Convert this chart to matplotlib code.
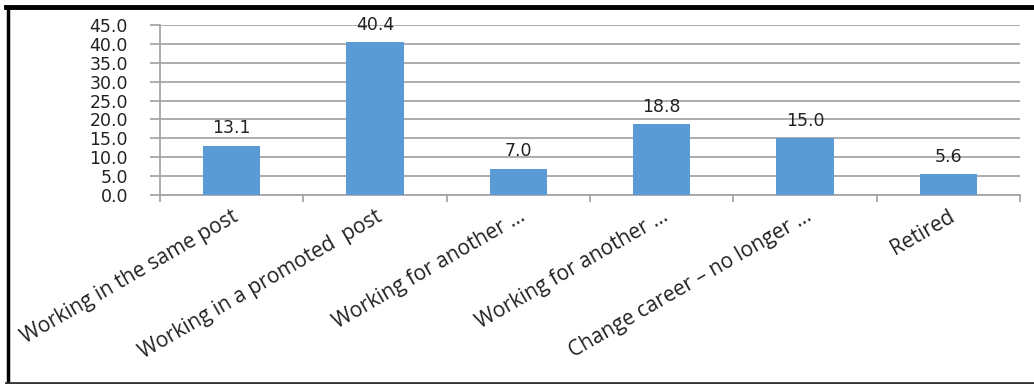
import numpy as np
import matplotlib.pyplot as plt
from matplotlib.lines import Line2D

# data
categories = [
    "Working in the same post",
    "Working in a promoted  post",
    "Working for another \u2026",
    "Working for another \u2026",
    "Change career \u2013 no longer \u2026",
    "Retired",
]
values = [13.1, 40.4, 7.0, 18.8, 15.0, 5.6]

bar_color = "#5B9BD5"
grid_color = "#A6A6A6"

fig = plt.figure(figsize=(10.34, 3.84), dpi=100)
ax = fig.add_axes([160 / 1034, 1 - 195 / 384, 860 / 1034, 170 / 384])

x = np.arange(len(categories))
ax.bar(x, values, width=0.4, color=bar_color, zorder=3)

for xi, v in zip(x, values):
    ax.text(xi, v + 2.2, f"{v:.1f}", ha="center", va="bottom",
            fontsize=12.5, family="DejaVu Sans", color="#222222", zorder=4)

ax.set_ylim(0, 45)
ax.set_xlim(-0.5, len(categories) - 0.5)
ax.set_yticks(np.arange(0, 46, 5))
ax.set_yticklabels([f"{t:.1f}" for t in np.arange(0, 46, 5)],
                   fontsize=12.5, family="DejaVu Sans", color="#222222")
ax.yaxis.grid(True, color=grid_color, linewidth=1.3, zorder=0)

# category boundaries as major ticks, labels on minor ticks
ax.set_xticks(np.arange(-0.5, len(categories), 1.0))
ax.set_xticklabels([])
ax.set_xticks(x, minor=True)
ax.set_xticklabels(categories, minor=True, rotation=30, ha="right",
                   rotation_mode="anchor", fontsize=15, family="Open Sans",
                   color="#222222")
ax.tick_params(axis="x", which="major", length=5, color=grid_color, width=1.3)
ax.tick_params(axis="x", which="minor", length=0, pad=8)
ax.tick_params(axis="y", length=7, color=grid_color, width=1.3, pad=16)

for side in ["top", "right"]:
    ax.spines[side].set_visible(False)
for side in ["left", "bottom"]:
    ax.spines[side].set_color(grid_color)
    ax.spines[side].set_linewidth(1.3)

# outer frame (top, left, bottom)
fig.add_artist(Line2D([0.006, 1.0], [1 - 7 / 384, 1 - 7 / 384], color="black",
                      linewidth=3.5, transform=fig.transFigure))
fig.add_artist(Line2D([7.5 / 1034, 7.5 / 1034], [0.0, 1 - 7 / 384], color="black",
                      linewidth=2.5, transform=fig.transFigure))
fig.add_artist(Line2D([0.006, 1.0], [1.5 / 384, 1.5 / 384], color="#333333",
                      linewidth=2, transform=fig.transFigure))

fig.savefig("out.png", dpi=100)
